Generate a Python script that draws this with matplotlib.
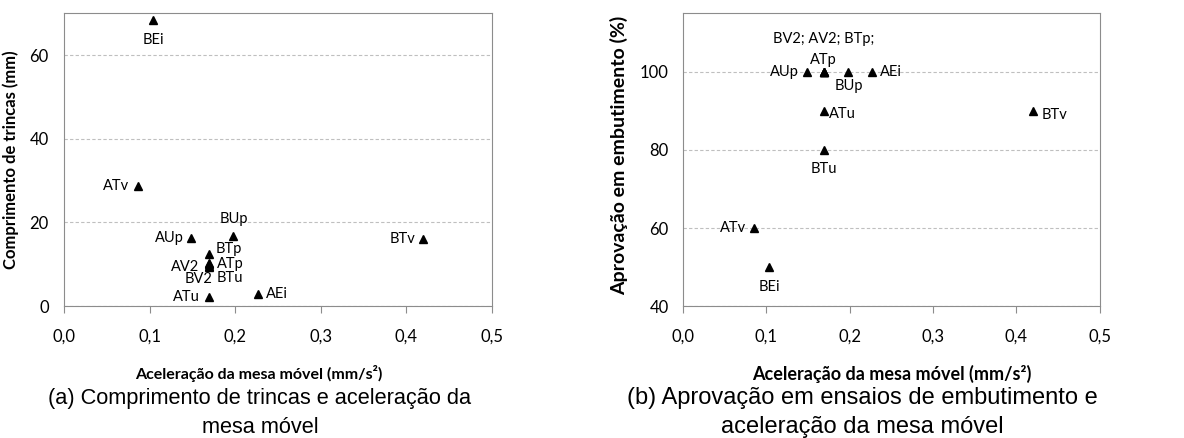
import matplotlib
matplotlib.use("Agg")
import matplotlib.pyplot as plt
from matplotlib.ticker import FuncFormatter

amostras = ["BEi", "ATv", "AUp", "BUp", "BTp", "ATp", "AV2", "BV2", "BTu", "ATu", "AEi", "BTv"]
aceleracao = [0.104, 0.086, 0.149, 0.198, 0.169, 0.169, 0.169, 0.169, 0.169, 0.169, 0.227, 0.420]
trincas = [68.3, 28.8, 16.3, 16.8, 12.4, 10.3, 10.0, 9.5, 9.3, 2.2, 3.0, 16.0]
aprovacao = [50, 60, 100, 100, 100, 100, 100, 100, 80, 90, 100, 90]

# posição dos rótulos (pixels em relação ao ponto, alinhamento)
rot_a = {
    "BEi": (0, -20, "center"), "ATv": (-8, 0, "right"), "AUp": (-8, 0, "right"),
    "BUp": (0, 17, "center"), "BTp": (7, 5, "left"), "ATp": (8, -1, "left"),
    "AV2": (-9, -3, "right"), "BV2": (4, -13, "right"), "BTu": (8, -11, "left"),
    "ATu": (-9, 0, "right"), "AEi": (8, 0, "left"), "BTv": (-8, 0, "right"),
}
rot_b = {
    "BEi": (0, -20, "center"), "ATv": (-8, 0, "right"), "AUp": (-8, 0, "right"),
    "BUp": (1, -14, "center"), "BTu": (0, -19, "center"), "ATu": (5, -3, "left"),
    "AEi": (8, 0, "left"), "BTv": (8, -4, "left"), "ATp": (0, 12, "center"),
}
# rótulo de cima no gráfico (b): pontos sobrepostos em 100 %
juntos_b = ["BV2", "AV2", "BTp"]

fonte = "Lato"
cinza = "#8c8c8c"

fig = plt.figure(figsize=(11.84, 4.38), dpi=100)
ax1 = fig.add_axes([0.054, 0.301, 0.3615, 0.669])
ax2 = fig.add_axes([0.5766, 0.301, 0.3524, 0.669])

virgula = FuncFormatter(lambda v, p: f"{v:.1f}".replace(".", ","))

for ax in (ax1, ax2):
    ax.set_xlim(0, 0.5)
    ax.set_xticks([0, 0.1, 0.2, 0.3, 0.4, 0.5])
    ax.xaxis.set_major_formatter(virgula)
    for s in ax.spines.values():
        s.set_color(cinza)
    ax.tick_params(axis="x", length=5, color=cinza, pad=11, labelsize=12)
    ax.tick_params(axis="y", length=0, labelsize=12)
    ax.yaxis.grid(True, linestyle=(0, (3, 2)), color="#bfbfbf", linewidth=0.8)
    ax.set_axisbelow(True)
    for t in ax.get_xticklabels() + ax.get_yticklabels():
        t.set_fontfamily(fonte)

# (a)
ax1.set_ylim(0, 70)
ax1.set_yticks([0, 20, 40, 60])
ax1.tick_params(axis="y", pad=11)
ax1.plot(aceleracao, trincas, "^", color="black", ms=5.5, clip_on=False)
for nome, x, y in zip(amostras, aceleracao, trincas):
    dx, dy, ha = rot_a[nome]
    ax1.annotate(nome, (x, y), xytext=(dx, dy), textcoords="offset pixels",
                 ha=ha, va="center", fontsize=10.5, fontfamily=fonte)
ax1.set_xlabel("Aceleração da mesa móvel (mm/s²)", fontfamily=fonte,
               fontweight="bold", fontsize=11.5)
ax1.xaxis.set_label_coords(0.456, -0.2)
ax1.set_ylabel("Comprimento de trincas (mm)", fontfamily=fonte,
               fontweight="bold", fontsize=12)
ax1.yaxis.set_label_coords(-0.105, 0.5)

# (b)
ax2.set_ylim(40, 115)
ax2.set_yticks([40, 60, 80, 100])
ax2.tick_params(axis="y", pad=10)
ax2.plot(aceleracao, aprovacao, "^", color="black", ms=5.5, clip_on=False)
for nome, x, y in zip(amostras, aceleracao, aprovacao):
    if nome not in rot_b:
        continue
    dx, dy, ha = rot_b[nome]
    ax2.annotate(nome, (x, y), xytext=(dx, dy), textcoords="offset pixels",
                 ha=ha, va="center", fontsize=10.5, fontfamily=fonte)
    if nome == "ATp":
        ax2.annotate("; ".join(juntos_b) + ";", (x, y), xytext=(dx, dy + 21),
                     textcoords="offset pixels", ha=ha, va="center",
                     fontsize=10.5, fontfamily=fonte)
ax2.set_xlabel("Aceleração da mesa móvel (mm/s²)", fontfamily=fonte,
               fontweight="bold", fontsize=13)
ax2.xaxis.set_label_coords(0.5, -0.2)
ax2.set_ylabel("Aprovação em embutimento (%)", fontfamily=fonte,
               fontweight="bold", fontsize=14)
ax2.yaxis.set_label_coords(-0.131, 0.515)

fig.text(0.2196, 0.058, "(a) Comprimento de trincas e aceleração da\nmesa móvel",
         ha="center", va="center", fontsize=15.7, fontfamily="Liberation Sans",
         linespacing=1.5)
fig.text(0.728, 0.058, "(b) Aprovação em ensaios de embutimento e\naceleração da mesa móvel",
         ha="center", va="center", fontsize=17, fontfamily="Liberation Sans",
         linespacing=1.4)

fig.savefig("out.png", dpi=100)
